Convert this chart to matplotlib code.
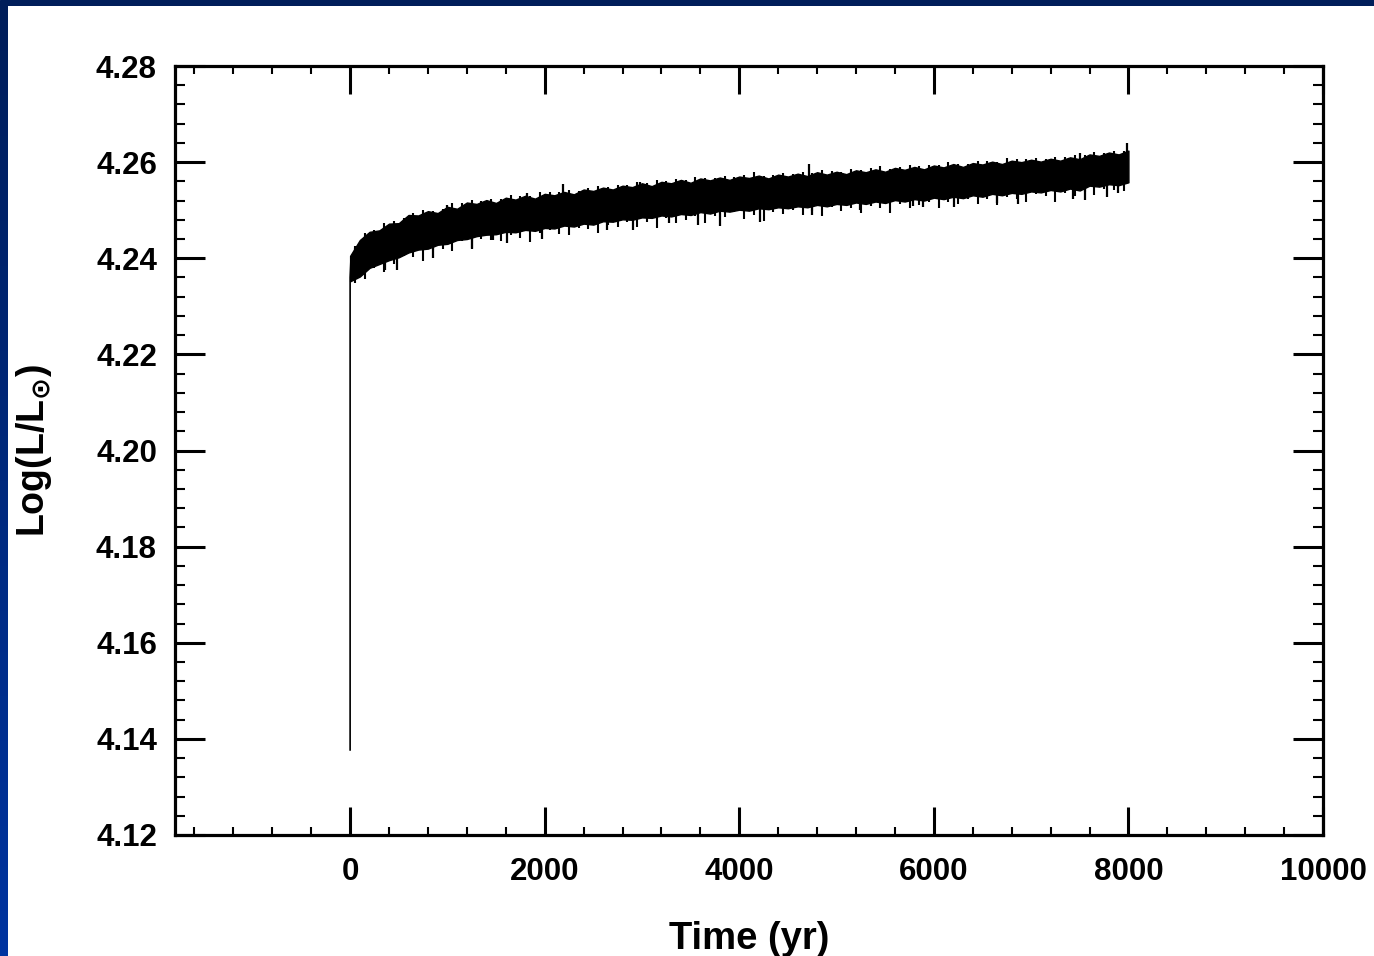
import numpy as np
import matplotlib
matplotlib.use("Agg")
import matplotlib.pyplot as plt
from matplotlib.ticker import MultipleLocator
from matplotlib.colors import LinearSegmentedColormap

# ---------------- data ----------------
# initial rise at t = 0
rise_time = [0.0, 0.0, 8.0]
rise_logL = [4.1377, 4.2360, 4.2395]

# band envelope of the rapidly oscillating luminosity (every 100 yr)
env_time = [0, 100, 200, 300, 400, 500, 600, 700, 800, 900,
            1000, 1100, 1200, 1300, 1400, 1500, 1600, 1700, 1800, 1900,
            2000, 2100, 2200, 2300, 2400, 2500, 2600, 2700, 2800, 2900,
            3000, 3100, 3200, 3300, 3400, 3500, 3600, 3700, 3800, 3900,
            4000, 4100, 4200, 4300, 4400, 4500, 4600, 4700, 4800, 4900,
            5000, 5100, 5200, 5300, 5400, 5500, 5600, 5700, 5800, 5900,
            6000, 6100, 6200, 6300, 6400, 6500, 6600, 6700, 6800, 6900,
            7000, 7100, 7200, 7300, 7400, 7500, 7600, 7700, 7800, 7900,
            8000]
logL_top = [4.2405, 4.2438, 4.2455, 4.2458, 4.2472, 4.2473, 4.2490, 4.2489, 4.2498, 4.2494,
            4.2507, 4.2503, 4.2516, 4.2513, 4.2521, 4.2515, 4.2526, 4.2522, 4.2530, 4.2524,
            4.2534, 4.2531, 4.2538, 4.2533, 4.2543, 4.2540, 4.2547, 4.2543, 4.2551, 4.2548,
            4.2556, 4.2550, 4.2559, 4.2556, 4.2563, 4.2557, 4.2566, 4.2562, 4.2568, 4.2563,
            4.2570, 4.2567, 4.2572, 4.2566, 4.2574, 4.2570, 4.2576, 4.2571, 4.2579, 4.2574,
            4.2580, 4.2575, 4.2583, 4.2579, 4.2585, 4.2580, 4.2588, 4.2584, 4.2590, 4.2585,
            4.2593, 4.2589, 4.2596, 4.2590, 4.2598, 4.2595, 4.2601, 4.2596, 4.2603, 4.2600,
            4.2605, 4.2601, 4.2607, 4.2603, 4.2610, 4.2606, 4.2616, 4.2613, 4.2620, 4.2616,
            4.2624]
logL_bottom = [4.2352, 4.2362, 4.2380, 4.2388, 4.2396, 4.2402, 4.2412, 4.2418, 4.2420, 4.2428,
               4.2430, 4.2438, 4.2440, 4.2446, 4.2449, 4.2450, 4.2455, 4.2454, 4.2459, 4.2457,
               4.2463, 4.2462, 4.2468, 4.2466, 4.2472, 4.2470, 4.2477, 4.2476, 4.2481, 4.2480,
               4.2485, 4.2484, 4.2489, 4.2487, 4.2492, 4.2490, 4.2496, 4.2493, 4.2499, 4.2497,
               4.2501, 4.2499, 4.2504, 4.2502, 4.2506, 4.2504, 4.2508, 4.2506, 4.2511, 4.2508,
               4.2513, 4.2511, 4.2516, 4.2513, 4.2518, 4.2515, 4.2521, 4.2518, 4.2523, 4.2520,
               4.2526, 4.2523, 4.2528, 4.2525, 4.2531, 4.2528, 4.2534, 4.2531, 4.2536, 4.2534,
               4.2539, 4.2537, 4.2542, 4.2539, 4.2545, 4.2541, 4.2551, 4.2549, 4.2554, 4.2552,
               4.2558]

# oscillation extremes between the envelope nodes
osc_time = [50, 150, 250, 350, 450, 550, 650, 750, 850, 950,
            1050, 1150, 1250, 1350, 1450, 1550, 1650, 1750, 1850, 1950,
            2050, 2150, 2250, 2350, 2450, 2550, 2650, 2750, 2850, 2950,
            3050, 3150, 3250, 3350, 3450, 3550, 3650, 3750, 3850, 3950,
            4050, 4150, 4250, 4350, 4450, 4550, 4650, 4750, 4850, 4950,
            5050, 5150, 5250, 5350, 5450, 5550, 5650, 5750, 5850, 5950,
            6050, 6150, 6250, 6350, 6450, 6550, 6650, 6750, 6850, 6950,
            7050, 7150, 7250, 7350, 7450, 7550, 7650, 7750, 7850, 7950]
osc_low = [4.2349, 4.2356, 4.2379, 4.2372, 4.2389, 4.2404, 4.2403, 4.2394, 4.2418, 4.2420,
           4.2416, 4.2435, 4.2421, 4.2440, 4.2438, 4.2436, 4.2449, 4.2443, 4.2434, 4.2452,
           4.2459, 4.2451, 4.2448, 4.2463, 4.2461, 4.2452, 4.2469, 4.2466, 4.2476, 4.2465,
           4.2475, 4.2463, 4.2483, 4.2474, 4.2480, 4.2487, 4.2474, 4.2488, 4.2485, 4.2496,
           4.2482, 4.2491, 4.2478, 4.2497, 4.2493, 4.2501, 4.2491, 4.2499, 4.2488, 4.2506,
           4.2498, 4.2505, 4.2495, 4.2509, 4.2505, 4.2495, 4.2512, 4.2505, 4.2511, 4.2518,
           4.2504, 4.2516, 4.2513, 4.2524, 4.2512, 4.2523, 4.2510, 4.2527, 4.2523, 4.2518,
           4.2533, 4.2529, 4.2516, 4.2535, 4.2529, 4.2537, 4.2531, 4.2545, 4.2542, 4.2539]
osc_high = [4.2425, 4.2453, 4.2459, 4.2473, 4.2477, 4.2483, 4.2495, 4.2501, 4.2499, 4.2503,
            4.2514, 4.2514, 4.2521, 4.2519, 4.2523, 4.2524, 4.2531, 4.2530, 4.2529, 4.2537,
            4.2538, 4.2538, 4.2542, 4.2539, 4.2546, 4.2551, 4.2548, 4.2552, 4.2552, 4.2558,
            4.2557, 4.2563, 4.2561, 4.2565, 4.2562, 4.2569, 4.2568, 4.2568, 4.2572, 4.2569,
            4.2574, 4.2579, 4.2572, 4.2574, 4.2578, 4.2575, 4.2579, 4.2578, 4.2584, 4.2581,
            4.2580, 4.2585, 4.2584, 4.2587, 4.2591, 4.2586, 4.2590, 4.2593, 4.2591, 4.2594,
            4.2593, 4.2600, 4.2597, 4.2597, 4.2603, 4.2603, 4.2601, 4.2608, 4.2606, 4.2606,
            4.2609, 4.2606, 4.2610, 4.2611, 4.2615, 4.2614, 4.2621, 4.2619, 4.2623, 4.2624]

# isolated deeper excursions below / above the band
dip_time = [360, 480, 855, 1255, 1470, 1610, 1975, 2640, 2910, 3280, 3580,
            3800, 4210, 4750, 5240, 5790, 5890, 6210, 6650, 6860, 7430, 7555, 7780, 7895]
dip_logL = [4.2376, 4.2376, 4.2400, 4.2419, 4.2438, 4.2432, 4.2440, 4.2459, 4.2459, 4.2473, 4.2469,
            4.2467, 4.2475, 4.2490, 4.2500, 4.2509, 4.2507, 4.2507, 4.2515, 4.2513, 4.2523, 4.2521, 4.2528, 4.2536]
peak_time = [1000, 1820, 2190, 2980, 4720, 7500, 7990]
peak_logL = [4.2511, 4.2536, 4.2555, 4.2559, 4.2597, 4.2619, 4.2640]

x_ticks = [0, 2000, 4000, 6000, 8000, 10000]
y_ticks = [4.12, 4.14, 4.16, 4.18, 4.20, 4.22, 4.24, 4.26, 4.28]

# ---------------- figure ----------------
W, H = 1374, 956
fig = plt.figure(figsize=(W / 100, H / 100), dpi=100, facecolor="white")
plt.rcParams["font.family"] = ["Liberation Sans", "DejaVu Sans"]
plt.rcParams["font.weight"] = "bold"
plt.rcParams["mathtext.fontset"] = "dejavusans"

# blue frame of the slide
top_ax = fig.add_axes([0, 1 - 6 / H, 1, 6 / H])
top_ax.set_axis_off()
top_ax.add_patch(plt.Rectangle((0, 0), 1, 1, color="#001e5a", transform=top_ax.transAxes))
left_ax = fig.add_axes([0, 0, 8 / W, 1 - 6 / H])
left_ax.set_axis_off()
grad = np.linspace(0, 1, 256).reshape(-1, 1)
cmap = LinearSegmentedColormap.from_list("slide", ["#001e5a", "#0034a0"])
left_ax.imshow(grad, aspect="auto", cmap=cmap, extent=[0, 1, 0, 1], origin="upper")

ax = fig.add_axes([175 / W, 1 - 835 / H, (1323 - 175) / W, (835 - 66) / H])

ax.fill_between(env_time, logL_bottom, logL_top, color="black", lw=1.0, edgecolor="black")
ax.plot(rise_time, rise_logL, color="black", lw=1.2)
band_low = np.interp(osc_time, env_time, logL_bottom)
band_high = np.interp(osc_time, env_time, logL_top)
ax.vlines(osc_time, osc_low, band_high, color="black", lw=1.5)
ax.vlines(osc_time, band_low, osc_high, color="black", lw=1.5)
ax.vlines(dip_time, dip_logL, np.interp(dip_time, env_time, logL_bottom) + 0.0005, color="black", lw=1.6)
ax.vlines(peak_time, np.interp(peak_time, env_time, logL_top) - 0.0005, peak_logL, color="black", lw=1.6)

ax.set_xlim(-1800, 10000)
ax.set_ylim(4.12, 4.28)
ax.set_xticks(x_ticks)
ax.set_yticks(y_ticks)
ax.set_xticklabels([str(v) for v in x_ticks])
ax.set_yticklabels([f"{v:.2f}" for v in y_ticks])
ax.xaxis.set_minor_locator(MultipleLocator(400))
ax.yaxis.set_minor_locator(MultipleLocator(0.004))

for s in ax.spines.values():
    s.set_linewidth(2.3)
ax.tick_params(which="major", direction="in", top=True, right=True, width=2.2,
               labelsize=22.5, length=20)
ax.tick_params(axis="y", which="major", length=21.5, pad=13)
ax.tick_params(axis="x", which="major", pad=16)
ax.tick_params(which="minor", direction="in", top=True, right=True, width=1.5, length=6)
ax.tick_params(axis="y", which="minor", length=7)
for lab in ax.get_xticklabels() + ax.get_yticklabels():
    lab.set_fontweight("bold")

ax.set_xlabel("Time (yr)", fontsize=27.5, fontweight="bold", labelpad=24)
ax.set_ylabel(r"Log(L/L$_{\odot}$)", fontsize=27, fontweight="bold", labelpad=30)

fig.savefig("out.png", dpi=100, facecolor="white")
